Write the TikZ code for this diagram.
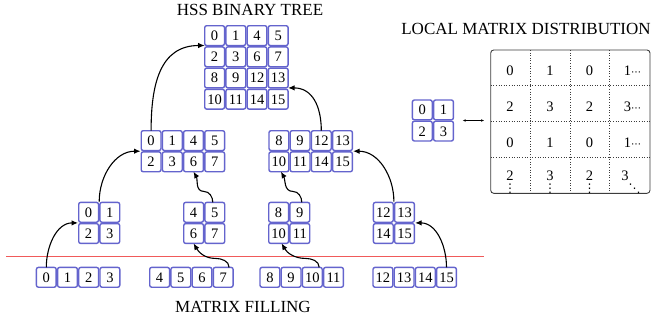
\documentclass[tikz,border=0pt]{standalone}
\usepackage{fontspec}
\setmainfont{Liberation Serif}
\newfontfamily\dejavu{DejaVu Sans}
\usetikzlibrary{matrix,arrows.meta,calc}
\definecolor{cellblue}{RGB}{100,100,205}
\definecolor{redln}{RGB}{240,90,90}
\definecolor{boxgray}{RGB}{60,60,60}
\newcommand{\smalldots}{{\dejavu\fontsize{10}{12}\selectfont ⋯}}
\begin{document}
\begin{tikzpicture}[x=1pt,y=-1pt,
  cellbox/.style={draw=cellblue, fill=white, line width=1.4pt, rounded corners=2pt,
    minimum size=19.8pt, inner sep=0pt, font=\fontsize{14.5}{16}\selectfont,
    text height=9.8pt, text depth=0pt},
  blk/.style={matrix of nodes, nodes={cellbox}, inner sep=0pt, outer sep=0pt,
    column sep=0pt, row sep=0pt, anchor=north west},
  arr/.style={-{Latex[length=6.5pt,width=5.5pt]}, line width=1.1pt},
  title/.style={font=\fontsize{17}{20}\selectfont, inner sep=0pt},
  num/.style={font=\fontsize{14.5}{16}\selectfont, inner sep=0pt, text height=9.8pt, text depth=0pt},
  dotsnode/.style={font=\dejavu\fontsize{12}{13}\selectfont, inner sep=0pt},
  dotline/.style={dotted, line width=0.6pt, boxgray}]
\useasboundingbox (0,0) rectangle (654,324);

% titles
\node[title] (ht) at (250,10) {HSS BINARY TREE};
\node[title] (mf) at (243,306.7) {MATRIX FILLING};
\node[title] (ld) at (526,28.5) {LOCAL MATRIX DISTRIBUTION};

% red separator
\draw[redln, line width=0.9pt] (6,256.7) -- (484,256.7);

% blocks
\matrix (T) [blk] at (204,25) {
0 & 1 & 4 & 5 \\
2 & 3 & 6 & 7 \\
8 & 9 & 12 & 13 \\
10 & 11 & 14 & 15 \\
};
\matrix (A) [blk] at (140.5,130) {
0 & 1 & 4 & 5 \\
2 & 3 & 6 & 7 \\
};
\matrix (B) [blk] at (268.3,130) {
8 & 9 & 12 & 13 \\
10 & 11 & 14 & 15 \\
};
\matrix (C) [blk] at (78,201.7) {
0 & 1 \\
2 & 3 \\
};
\matrix (D) [blk] at (183,201.7) {
4 & 5 \\
6 & 7 \\
};
\matrix (E) [blk] at (268,201.7) {
8 & 9 \\
10 & 11 \\
};
\matrix (F) [blk] at (372.7,201.7) {
12 & 13 \\
14 & 15 \\
};
\matrix (G) [blk] at (35.7,266.7) {
0 & 1 & 2 & 3 \\
};
\matrix (H) [blk] at (149,266.7) {
4 & 5 & 6 & 7 \\
};
\matrix (I) [blk] at (259.3,266.7) {
8 & 9 & 10 & 11 \\
};
\matrix (J) [blk] at (372.3,266.7) {
12 & 13 & 14 & 15 \\
};
\matrix (S) [blk] at (411.7,99.3) {
0 & 1 \\
2 & 3 \\
};

% tree arrows
\draw[arr] (G-1-1.north) to[out=90,in=180] (C.west);
\draw[arr] (C.north) to[out=90,in=180] (A.west);
\draw[arr] (A-1-1.north) to[out=90,in=180,looseness=1.15] (T-1-1.south west);
\draw[arr] (B-1-3.north) to[out=90,in=0,looseness=1.15] (T-3-4.south east);
\draw[arr] (F.north) to[out=90,in=0] (B.east);
\draw[arr] (J-1-4.north) to[out=90,in=0] (F.east);

% wavy arrows
\draw[arr] ([xshift=-4pt]H-1-4.north east) to[out=90,in=0] ++(-14,-9) to[out=180,in=-60] (D-2-1.south);
\draw[arr] ([xshift=-2pt]D-1-2.north) to[out=90,in=0] ++(-9,-11) to[out=180,in=-60] (A-2-3.south);
\draw[arr] ([xshift=-3pt]I-1-3.north east) to[out=90,in=0] ++(-14,-9) to[out=180,in=-60] ([xshift=3pt]E-2-1.south);
\draw[arr] ([xshift=2pt]E-1-2.north) to[out=90,in=0] ++(-9,-11) to[out=180,in=-60] ([xshift=2pt]B-2-1.south);

% local matrix
\draw[dotline] (490.7,85) -- (650,85);
\draw[dotline] (490.7,121) -- (650,121);
\draw[dotline] (490.7,157) -- (650,157);
\draw[dotline] (530,50) -- (530,193.3);
\draw[dotline] (570,50) -- (570,193.3);
\draw[dotline] (609.5,50) -- (609.5,193.3);
\node[draw=boxgray, line width=0.9pt, rounded corners=3pt, minimum width=159.3pt,
  minimum height=143.3pt, inner sep=0pt, outer sep=0pt, anchor=north west] (M) at (490.7,50) {};

\node[num] (m11) at (510,70.7) {0};
\node[num] (m12) at (550,70.7) {1};
\node[num] (m13) at (589.5,70.7) {0};
\node[num] (m14) at (632.5,70.7) {1\smalldots};
\node[num] (m21) at (510,106.3) {2};
\node[num] (m22) at (550,106.3) {3};
\node[num] (m23) at (589.5,106.3) {2};
\node[num] (m24) at (632.5,106.3) {3\smalldots};
\node[num] (m31) at (510,142.8) {0};
\node[num] (m32) at (550,142.8) {1};
\node[num] (m33) at (589.5,142.8) {0};
\node[num] (m34) at (632.5,142.8) {1\smalldots};
\node[num] (m41) at (510,175.5) {2};
\node[num] (m42) at (550,175.5) {3};
\node[num] (m43) at (589.5,175.5) {2};
\node[num] (m44) at (625,175.5) {3};
\node[dotsnode, anchor=base] (v41) at (510,192) {⋮};
\node[dotsnode, anchor=base] (v42) at (550,192) {⋮};
\node[dotsnode, anchor=base] (v43) at (589.5,192) {⋮};
\node[dotsnode, anchor=base west] (v44) at (628.5,192) {⋱};

% correspondence arrow
\draw[{Latex[length=3pt,width=2.6pt]}-{Latex[length=3pt,width=2.6pt]}, line width=0.6pt,
  shorten <=8.5pt, shorten >=6.5pt] (S.east) -- (S.east -| M.west);
\end{tikzpicture}
\end{document}
